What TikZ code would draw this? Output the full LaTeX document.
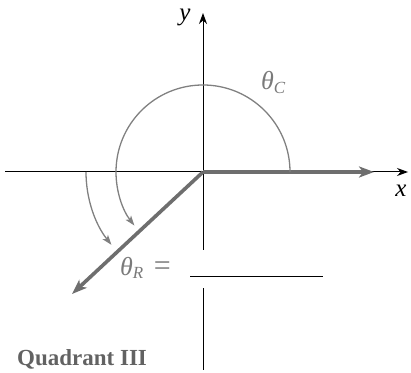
\documentclass[tikz,border=0pt]{standalone}
\usepackage{fontspec}
\setmainfont{Liberation Serif}
\usetikzlibrary{arrows.meta}
\definecolor{vecgray}{HTML}{6E6E6E}
\definecolor{arcgray}{HTML}{808080}
\definecolor{txtgray}{HTML}{7A7A7A}
\begin{document}
\begin{tikzpicture}[x=1pt,y=1pt,
  axis/.style={black, line width=1pt},
  vec/.style={vecgray, line width=3.6pt, -{Stealth[length=15pt,width=11pt,inset=4pt]}},
  arctip/.style={arcgray, line width=1.3pt, -{Stealth[length=10pt,width=7pt,inset=2.5pt]}},
  lab/.style={font=\fontsize{25}{27}\selectfont\itshape, inner sep=0pt},
  glab/.style={font=\fontsize{26}{28}\selectfont\itshape, text=txtgray, inner sep=0pt}]
\useasboundingbox (0,0) rectangle (411,372);
\coordinate (O) at (203,200);
\coordinate (ytop) at (203,359);
\coordinate (ygapA) at (203,122);
\coordinate (ygapB) at (203,84);
\coordinate (ybot) at (203,2);
\coordinate (xleft) at (5,200);
\coordinate (xright) at (408,200);
\coordinate (vx) at (374,200);
\coordinate (vr) at (72,78);
% axes
\draw[axis, -{Stealth[length=11pt,width=8pt]}] (xleft) -- (xright);
\draw[axis, -{Stealth[length=11pt,width=8pt]}] (O) -- (ytop);
\draw[axis] (O) -- (ygapA);
\draw[axis] (ygapB) -- (ybot);
% vectors
\draw[vec] (O) -- (vx);
\draw[vec] (O) -- (vr);
% arcs
\draw[arctip] ([shift={(0:87)}]O) arc[start angle=0, end angle=218, radius=87];
\draw[arctip] ([shift={(180:117)}]O) arc[start angle=180, end angle=218.5, radius=117];
% labels
\node[lab] (ylab) at (185,355) {y};
\node[lab] (xlab) at (401,181) {x};
\node[glab, anchor=base west] (thC) at (261,282) {θ\textsubscript{\fontsize{17}{18}\selectfont C}};
\node[glab, anchor=base west] (thR) at (120,97) {θ\textsubscript{\fontsize{17}{18}\selectfont R}\hspace{10pt}{\upshape\fontsize{30}{30}\selectfont=}};
\coordinate (blankA) at (190,96);
\coordinate (blankB) at (323,96);
\draw[black, line width=0.8pt] (blankA) -- (blankB);
\node[anchor=base west, inner sep=0pt, text=txtgray!80!black, font=\fontsize{23}{25}\selectfont\bfseries] (quad) at (17,7) {Quadrant III};
\end{tikzpicture}
\end{document}
